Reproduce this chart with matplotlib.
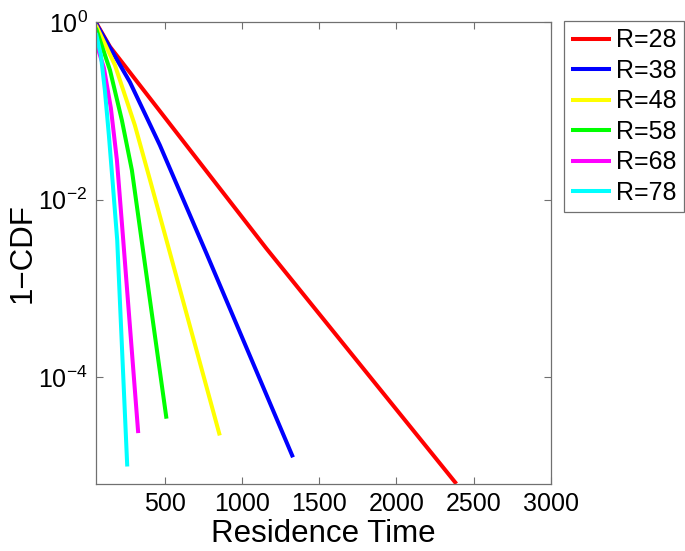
import matplotlib
matplotlib.use('Agg')
import matplotlib.pyplot as plt
from matplotlib.ticker import FixedLocator, LogFormatterSciNotation

plt.rcParams['font.family'] = ['Liberation Sans', 'DejaVu Sans']
plt.rcParams['mathtext.fontset'] = 'custom'
plt.rcParams['mathtext.rm'] = 'Liberation Sans'

labels = ['R=28', 'R=38', 'R=48', 'R=58', 'R=68', 'R=78']
colors = ['#ff0000', '#0000ff', '#ffff00', '#00ff00', '#ff00ff', '#00ffff']

# residence time / 1-CDF
t_28 = [55, 146, 1159, 2389]
p_28 = [0.992, 0.527, 0.00282, 6.34e-6]

t_38 = [55, 275, 469, 771, 1331]
p_38 = [0.967, 0.211, 0.0411, 0.00248, 1.26e-5]

t_48 = [55, 178, 307, 404, 512, 857]
p_48 = [0.925, 0.328, 0.0691, 0.0170, 0.0035, 2.22e-5]

t_58 = [55, 146, 223, 288, 351, 512]
p_58 = [0.856, 0.288, 0.0787, 0.0215, 0.0035, 3.43e-5]

t_68 = [55, 107, 152, 191, 232, 329]
p_68 = [0.595, 0.303, 0.107, 0.0279, 0.0035, 2.36e-5]

t_78 = [55, 87, 113, 139, 165, 193, 258]
p_78 = [0.752, 0.425, 0.171, 0.0533, 0.01456, 0.0035, 9.93e-6]

times = [t_28, t_38, t_48, t_58, t_68, t_78]
probs = [p_28, p_38, p_48, p_58, p_68, p_78]

fig = plt.figure(figsize=(6.85, 5.51), dpi=100)
ax = fig.add_axes([0.140, 0.1216, 0.664, 0.8385])

for t, p, c, lab in zip(times, probs, colors, labels):
    ax.semilogy(t, p, color=c, lw=2.9, label=lab, solid_capstyle='butt')

ax.set_xlim(55, 3000)
ax.set_ylim(10 ** -5.2, 1)
ax.set_xticks([500, 1000, 1500, 2000, 2500, 3000])
ax.yaxis.set_major_locator(FixedLocator([1e-4, 1e-2, 1]))
ax.yaxis.set_major_formatter(LogFormatterSciNotation())
ax.yaxis.set_minor_locator(FixedLocator([]))

ax.tick_params(direction='in', top=True, right=True, length=5, width=0.8,
               color='#707070', labelsize=18, pad=6)
for s in ax.spines.values():
    s.set_color('#707070')
    s.set_linewidth(0.9)

ax.set_xlabel('Residence Time', fontsize=22.5, labelpad=2)
ax.set_ylabel('1\u2212CDF', fontsize=22.5, labelpad=0)

leg = ax.legend(loc='upper left', bbox_to_anchor=(0.823, 0.962),
                bbox_transform=fig.transFigure, fontsize=18,
                handlelength=1.6, handletextpad=0.2, labelspacing=0.26,
                borderpad=0.3, borderaxespad=0, fancybox=False,
                edgecolor='#707070', framealpha=1)
leg.get_frame().set_linewidth(0.9)

fig.savefig('out.png', dpi=100)
